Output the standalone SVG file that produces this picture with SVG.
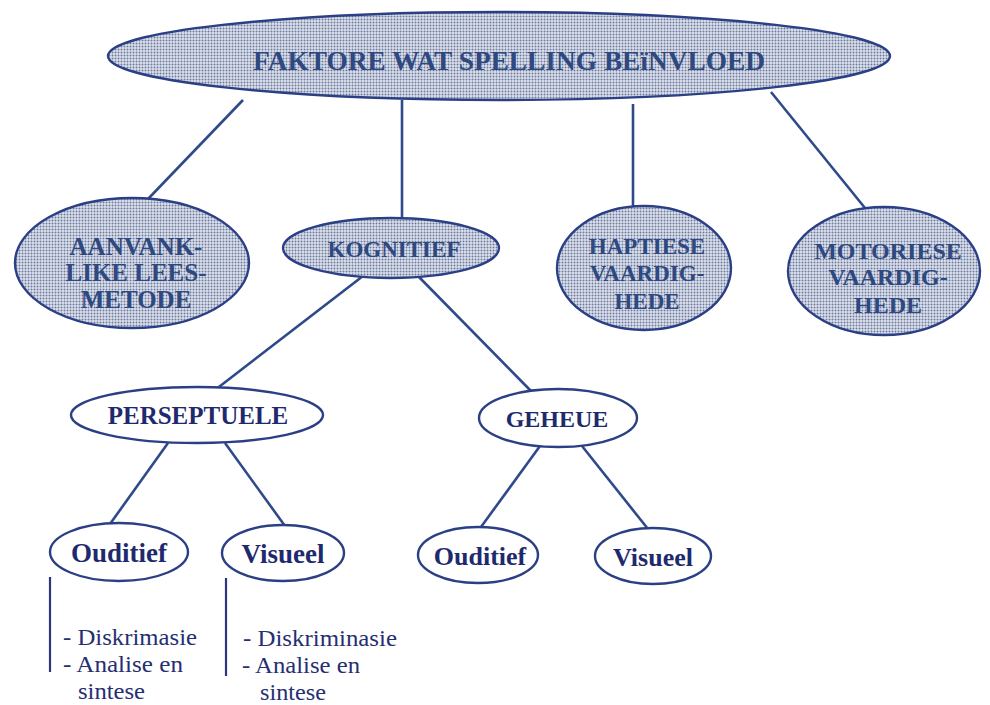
<svg xmlns="http://www.w3.org/2000/svg" width="990" height="705" viewBox="0 0 990 705">
<defs>
<pattern id="dots" width="3" height="3" patternUnits="userSpaceOnUse">
<rect width="3" height="3" fill="#dde1eb"/>
<circle cx="1.5" cy="1.5" r="1" fill="#6b7aa0"/>
</pattern>
</defs>
<style>
.sh{fill:url(#dots);stroke:#2b3f85;stroke-width:2.4}
.pl{fill:#ffffff;stroke:#2b3f85;stroke-width:2.4}
.cn line{stroke:#2f4a8a;stroke-width:2.6}
.bar{stroke:#2b3580;stroke-width:2.2}
text{font-family:'Liberation Serif','Times New Roman','DejaVu Serif',serif}
.tb{font-weight:bold;text-anchor:middle;fill:#2e4880}
.tn{font-weight:bold;text-anchor:middle;fill:#1f2a6e}
.tl{fill:#262e72;font-size:23px}
</style>
<rect width="990" height="705" fill="#ffffff"/>
<g class="cn" id="connectors">
<line x1="243" y1="100" x2="148" y2="199"/>
<line x1="402" y1="100" x2="402" y2="219"/>
<line x1="633" y1="104" x2="633" y2="206"/>
<line x1="771" y1="92" x2="865" y2="208"/>
<line x1="363" y1="276" x2="215" y2="390"/>
<line x1="418" y1="276" x2="531" y2="391"/>
<line x1="168" y1="443" x2="110" y2="524"/>
<line x1="225" y1="443" x2="285" y2="526"/>
<line x1="540" y1="446" x2="481" y2="527"/>
<line x1="582" y1="446" x2="648" y2="529"/>
</g>
<g id="n-root">
<ellipse class="sh" cx="499" cy="56" rx="391" ry="44"/>
<text class="tb" x="509" y="70" font-size="27" textLength="512" lengthAdjust="spacingAndGlyphs">FAKTORE WAT SPELLING BEïNVLOED</text>
</g>
<g id="n-aanvank">
<ellipse class="sh" cx="132" cy="263" rx="117" ry="65"/>
<text class="tb" font-size="25"><tspan x="136" y="255">AANVANK-</tspan><tspan x="136" y="281">LIKE LEES-</tspan><tspan x="136" y="308">METODE</tspan></text>
</g>
<g id="n-kognitief">
<ellipse class="sh" cx="391" cy="248" rx="108" ry="30"/>
<text class="tb" font-size="23" x="394" y="257">KOGNITIEF</text>
</g>
<g id="n-haptiese">
<ellipse class="sh" cx="644" cy="268" rx="87" ry="62"/>
<text class="tb" font-size="23"><tspan x="647" y="254">HAPTIESE</tspan><tspan x="647" y="281">VAARDIG-</tspan><tspan x="647" y="309">HEDE</tspan></text>
</g>
<g id="n-motoriese">
<ellipse class="sh" cx="884" cy="271" rx="96" ry="64"/>
<text class="tb" font-size="24"><tspan x="888" y="259">MOTORIESE</tspan><tspan x="888" y="285">VAARDIG-</tspan><tspan x="888" y="313">HEDE</tspan></text>
</g>
<g id="n-perseptuele">
<ellipse class="pl" cx="197" cy="415" rx="126" ry="28"/>
<text class="tn" font-size="25" x="198" y="424">PERSEPTUELE</text>
</g>
<g id="n-geheue">
<ellipse class="pl" cx="558" cy="418" rx="79" ry="29"/>
<text class="tn" font-size="24" x="557" y="427">GEHEUE</text>
</g>
<g id="n-ouditief1">
<ellipse class="pl" cx="119" cy="552" rx="69" ry="29"/>
<text class="tn" font-size="27" x="119" y="562">Ouditief</text>
</g>
<g id="n-visueel1">
<ellipse class="pl" cx="283" cy="553" rx="61" ry="28"/>
<text class="tn" font-size="27" x="283" y="563">Visueel</text>
</g>
<g id="n-ouditief2">
<ellipse class="pl" cx="478" cy="555" rx="60" ry="28"/>
<text class="tn" font-size="26" x="480" y="565">Ouditief</text>
</g>
<g id="n-visueel2">
<ellipse class="pl" cx="653" cy="556" rx="58" ry="28"/>
<text class="tn" font-size="26" x="653" y="566">Visueel</text>
</g>
<g id="list1">
<line class="bar" x1="50" y1="577" x2="50" y2="672"/>
<text class="tl" x="63" y="645" textLength="134" lengthAdjust="spacingAndGlyphs">- Diskrimasie</text>
<text class="tl" x="63" y="672" textLength="120" lengthAdjust="spacingAndGlyphs">- Analise en</text>
<text class="tl" x="78" y="699" textLength="67" lengthAdjust="spacingAndGlyphs">sintese</text>
</g>
<g id="list2">
<line class="bar" x1="226" y1="578" x2="226" y2="676"/>
<text class="tl" x="243" y="646" textLength="154" lengthAdjust="spacingAndGlyphs">- Diskriminasie</text>
<text class="tl" x="242" y="673" textLength="118" lengthAdjust="spacingAndGlyphs">- Analise en</text>
<text class="tl" x="260" y="700" textLength="66" lengthAdjust="spacingAndGlyphs">sintese</text>
</g>
</svg>
